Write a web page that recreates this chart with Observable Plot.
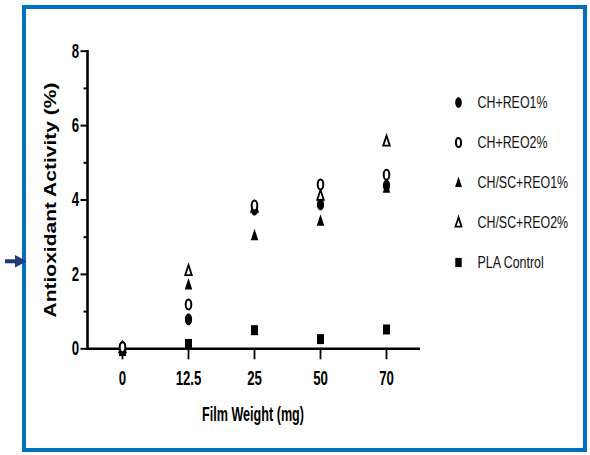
<!DOCTYPE html>
<html>
<head>
<meta charset="utf-8">
<script src="https://cdn.jsdelivr.net/npm/d3@7"></script>
<script src="https://cdn.jsdelivr.net/npm/@observablehq/plot@0.6"></script>
<style>
  html, body { margin: 0; padding: 0; background: #fff; }
  #wrap { position: relative; width: 590px; height: 455px; overflow: hidden; background: #fff; font-family: "Liberation Sans", Arial, sans-serif; }
  #wrap > svg { position: absolute; }
  .ttl { position: absolute; white-space: nowrap; line-height: 1; font-weight: bold; color: #000; }
</style>
</head>
<body>
<div id="wrap"></div>
<script>
// ---- data ----
const weights = ["0", "12.5", "25", "50", "70"];
const series = ["CH+REO1%", "CH+REO2%", "CH/SC+REO1%", "CH/SC+REO2%", "PLA Control"];
const chReo1   = [0.05, 0.79, 3.74, 3.88, 4.39];
const chReo2   = [0.04, 1.19, 3.85, 4.42, 4.68];
const chscReo1 = [-0.04, 1.73, 3.05, 3.44, 4.33];
const chscReo2 = [0.02, 2.10, 3.80, 4.12, 5.58];
const plaControl = [-0.06, 0.13, 0.50, 0.26, 0.52];
const yTicks = [0, 2, 4, 6, 8];
const yMinorTicks = [1, 3, 5, 7];
const xTitle = "Film Weight (mg)";
const yTitle = "Antioxidant Activity (%)";

const valuesBySeries = [chReo1, chReo2, chscReo1, chscReo2, plaControl];
const rows = series.flatMap((s, i) => weights.map((w, j) => ({series: s, weight: w, value: valuesBySeries[i][j]})));

// ---- symbols (horizontally condensed, as in the reference) ----
function ellipse(rx, ry) {
  return {draw(ctx, size) {
    const k = Math.sqrt(size / (Math.PI * 25)), a = rx * k, b = ry * k, c = 0.5523;
    ctx.moveTo(a, 0);
    ctx.bezierCurveTo(a, c * b, c * a, b, 0, b);
    ctx.bezierCurveTo(-c * a, b, -a, c * b, -a, 0);
    ctx.bezierCurveTo(-a, -c * b, -c * a, -b, 0, -b);
    ctx.bezierCurveTo(c * a, -b, a, -c * b, a, 0);
    ctx.closePath();
  }};
}
function tri(w, top, bottom) {
  return {draw(ctx, size) {
    const k = Math.sqrt(size / (Math.PI * 25));
    ctx.moveTo(0, -top * k);
    ctx.lineTo(w / 2 * k, bottom * k);
    ctx.lineTo(-w / 2 * k, bottom * k);
    ctx.closePath();
  }};
}
function box(w, h) {
  return {draw(ctx, size) {
    const k = Math.sqrt(size / (Math.PI * 25));
    ctx.rect(-w / 2 * k, -h / 2 * k, w * k, h * k);
  }};
}
const styles = {
  "CH+REO1%":    {symbol: ellipse(3.6, 5.8), fill: "#000", stroke: "none", strokeWidth: 0},
  "CH+REO2%":    {symbol: ellipse(2.8, 5.0), fill: "#fff", stroke: "#000", strokeWidth: 2},
  "CH/SC+REO1%": {symbol: tri(7.5, 6.5, 5), fill: "#000", stroke: "none", strokeWidth: 0},
  "CH/SC+REO2%": {symbol: tri(6.6, 5.6, 4.4), fill: "#fff", stroke: "#000", strokeWidth: 1.8},
  "PLA Control": {symbol: box(7, 10), fill: "#000", stroke: "none", strokeWidth: 0}
};
const drawOrder = ["PLA Control", "CH/SC+REO1%", "CH/SC+REO2%", "CH+REO1%", "CH+REO2%"];

const font = "Liberation Sans, Arial, sans-serif";

const chart = Plot.plot({
  width: 590,
  height: 455,
  marginLeft: 87,
  marginRight: 170,
  marginTop: 50.7,
  marginBottom: 106.7,
  style: {fontFamily: font, background: "transparent", color: "#000", overflow: "visible"},
  x: {type: "point", domain: weights, padding: 0.5},
  y: {domain: [0, 8]},
  marks: [
    Plot.axisY({ticks: yMinorTicks, tickSize: 3.5, strokeWidth: 2, text: null, label: null}),
    Plot.axisY({ticks: yTicks, tickSize: 6.5, tickPadding: 2, strokeWidth: 2, fontSize: 20, fontWeight: "bold", label: null}),
    Plot.axisX({tickSize: 11, tickPadding: 10, strokeWidth: 1.8, fontSize: 21, fontWeight: "bold", label: null}),
    Plot.frame({anchor: "left", strokeWidth: 2.6}),
    Plot.ruleY([0], {strokeWidth: 2.6}),
    ...drawOrder.map(s => Plot.dot(rows.filter(d => d.series === s), {
      x: "weight", y: "value", r: 5,
      symbol: styles[s].symbol, fill: styles[s].fill, stroke: styles[s].stroke, strokeWidth: styles[s].strokeWidth
    }))
  ]
});
chart.style.left = "0px";
chart.style.top = "0px";

function squish(root, selector, f) {
  d3.select(root).selectAll(selector).each(function() {
    const t = this.getAttribute("transform") || "";
    this.setAttribute("transform", t + ` scale(${f},1)`);
  });
}
squish(chart, "g[aria-label='x-axis tick label'] text", 0.63);
squish(chart, "g[aria-label='y-axis tick label'] text", 0.66);

const legend = Plot.plot({
  width: 145,
  height: 200,
  marginLeft: 0, marginRight: 0, marginTop: 21.7, marginBottom: 18.3,
  style: {fontFamily: font, background: "transparent", color: "#000", overflow: "visible"},
  y: {type: "point", domain: series, padding: 0, axis: null},
  marks: [
    ...series.map(s => Plot.dot([s], {
      y: d => d, frameAnchor: "left", dx: 18, r: 4.6,
      symbol: styles[s].symbol, fill: styles[s].fill, stroke: styles[s].stroke, strokeWidth: styles[s].strokeWidth
    })),
    Plot.text(series, {y: d => d, text: d => d, frameAnchor: "left", dx: 37, textAnchor: "start", fontSize: 17, fill: "#111"})
  ]
});
legend.style.left = "440px";
legend.style.top = "80px";
squish(legend, "text", 0.73);

const wrap = document.getElementById("wrap");
wrap.appendChild(chart);
wrap.appendChild(legend);

const yt = document.createElement("div");
yt.className = "ttl";
yt.textContent = yTitle;
yt.style.cssText = "left:49.5px;top:199.5px;font-size:21px;transform:translate(-50%,-50%) scaleX(0.75) rotate(-90deg);";
wrap.appendChild(yt);

const xt = document.createElement("div");
xt.className = "ttl";
xt.textContent = xTitle;
xt.style.cssText = "left:253px;top:402.5px;font-size:21px;transform:translate(-50%,0) scaleX(0.6);";
wrap.appendChild(xt);

// frame border
const border = document.createElement("div");
border.style.cssText = "position:absolute;left:22px;top:5px;width:565px;height:447px;box-sizing:border-box;border:4px solid #0070C0;pointer-events:none;";
wrap.appendChild(border);

// arrow marker on the left
const ns = "http://www.w3.org/2000/svg";
const arrow = document.createElementNS(ns, "svg");
arrow.setAttribute("width", "30");
arrow.setAttribute("height", "20");
arrow.style.cssText = "position:absolute;left:0;top:251px;";
const shaft = document.createElementNS(ns, "rect");
shaft.setAttribute("x", "5"); shaft.setAttribute("y", "8.3"); shaft.setAttribute("width", "11"); shaft.setAttribute("height", "4");
shaft.setAttribute("fill", "#1F3A78");
const head = document.createElementNS(ns, "path");
head.setAttribute("d", "M15,4 L26.7,10.3 L15,16.5 Z");
head.setAttribute("fill", "#1F3A78");
arrow.appendChild(shaft); arrow.appendChild(head);
wrap.appendChild(arrow);
</script>
</body>
</html>
